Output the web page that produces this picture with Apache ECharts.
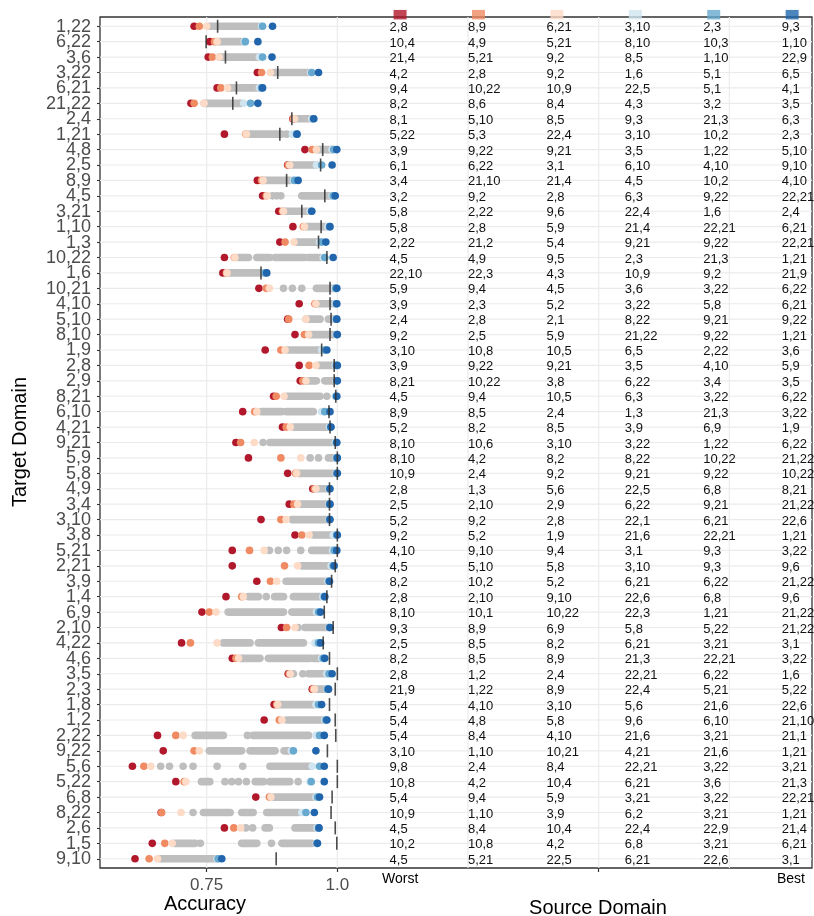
<!DOCTYPE html>
<html>
<head>
<meta charset="utf-8">
<script src="https://cdn.jsdelivr.net/npm/echarts@6/dist/echarts.min.js"></script>
<style>
  html, body { margin: 0; padding: 0; background: #fff; }
  #chart { width: 814px; height: 916px; }
</style>
</head>
<body>
<div id="chart"></div>
<script>
// target domains, top to bottom
const TARGETS = [
  "1,22", "6,22", "3,6", "3,22", "6,21", "21,22", "2,4", "1,21", "4,8", "2,5",
  "8,9", "4,5", "3,21", "1,10", "1,3", "10,22", "1,6", "10,21", "4,10", "5,10",
  "8,10", "1,9", "2,8", "2,9", "8,21", "6,10", "4,21", "9,21", "5,9", "5,8",
  "4,9", "3,4", "3,10", "3,8", "5,21", "2,21", "3,9", "1,4", "6,9", "2,10",
  "4,22", "4,6", "3,5", "2,3", "1,8", "1,2", "2,22", "9,22", "5,6", "5,22",
  "6,8", "8,22", "2,6", "1,5", "9,10",
];

// source domains for each target, worst -> best
const SOURCE_LABELS = [
  ["2,8", "8,9", "6,21", "3,10", "2,3", "9,3"],
  ["10,4", "4,9", "5,21", "8,10", "10,3", "1,10"],
  ["21,4", "5,21", "9,2", "8,5", "1,10", "22,9"],
  ["4,2", "2,8", "9,2", "1,6", "5,1", "6,5"],
  ["9,4", "10,22", "10,9", "22,5", "5,1", "4,1"],
  ["8,2", "8,6", "8,4", "4,3", "3,2", "3,5"],
  ["8,1", "5,10", "8,5", "9,3", "21,3", "6,3"],
  ["5,22", "5,3", "22,4", "3,10", "10,2", "2,3"],
  ["3,9", "9,22", "9,21", "3,5", "1,22", "5,10"],
  ["6,1", "6,22", "3,1", "6,10", "4,10", "9,10"],
  ["3,4", "21,10", "21,4", "4,5", "10,2", "4,10"],
  ["3,2", "9,2", "2,8", "6,3", "9,22", "22,21"],
  ["5,8", "2,22", "9,6", "22,4", "1,6", "2,4"],
  ["5,8", "2,8", "5,9", "21,4", "22,21", "6,21"],
  ["2,22", "21,2", "5,4", "9,21", "9,22", "22,21"],
  ["4,5", "4,9", "9,5", "2,3", "21,3", "1,21"],
  ["22,10", "22,3", "4,3", "10,9", "9,2", "21,9"],
  ["5,9", "9,4", "4,5", "3,6", "3,22", "6,22"],
  ["3,9", "2,3", "5,2", "3,22", "5,8", "6,21"],
  ["2,4", "2,8", "2,1", "8,22", "9,21", "9,22"],
  ["9,2", "2,5", "5,9", "21,22", "9,22", "1,21"],
  ["3,10", "10,8", "10,5", "6,5", "2,22", "3,6"],
  ["3,9", "9,22", "9,21", "3,5", "4,10", "5,9"],
  ["8,21", "10,22", "3,8", "6,22", "3,4", "3,5"],
  ["4,5", "9,4", "10,5", "6,3", "3,22", "6,22"],
  ["8,9", "8,5", "2,4", "1,3", "21,3", "3,22"],
  ["5,2", "8,2", "8,5", "3,9", "6,9", "1,9"],
  ["8,10", "10,6", "3,10", "3,22", "1,22", "6,22"],
  ["8,10", "4,2", "8,2", "8,22", "10,22", "21,22"],
  ["10,9", "2,4", "9,2", "9,21", "9,22", "10,22"],
  ["2,8", "1,3", "5,6", "22,5", "6,8", "8,21"],
  ["2,5", "2,10", "2,9", "6,22", "9,21", "21,22"],
  ["5,2", "9,2", "2,8", "22,1", "6,21", "22,6"],
  ["9,2", "5,2", "1,9", "21,6", "22,21", "1,21"],
  ["4,10", "9,10", "9,4", "3,1", "9,3", "3,22"],
  ["4,5", "5,10", "5,8", "3,10", "9,3", "9,6"],
  ["8,2", "10,2", "5,2", "6,21", "6,22", "21,22"],
  ["2,8", "2,10", "9,10", "22,6", "6,8", "9,6"],
  ["8,10", "10,1", "10,22", "22,3", "1,21", "21,22"],
  ["9,3", "8,9", "6,9", "5,8", "5,22", "21,22"],
  ["2,5", "8,5", "8,2", "6,21", "3,21", "3,1"],
  ["8,2", "8,5", "8,9", "21,3", "22,21", "3,22"],
  ["2,8", "1,2", "2,4", "22,21", "6,22", "1,6"],
  ["21,9", "1,22", "8,9", "22,4", "5,21", "5,22"],
  ["5,4", "4,10", "3,10", "5,6", "21,6", "22,6"],
  ["5,4", "4,8", "5,8", "9,6", "6,10", "21,10"],
  ["5,4", "8,4", "4,10", "21,6", "3,21", "21,1"],
  ["3,10", "1,10", "10,21", "4,21", "21,6", "1,21"],
  ["9,8", "2,4", "8,4", "22,21", "3,22", "3,21"],
  ["10,8", "4,2", "10,4", "6,21", "3,6", "21,3"],
  ["5,4", "9,4", "5,9", "3,21", "3,22", "22,21"],
  ["10,9", "1,10", "3,9", "6,2", "3,21", "1,21"],
  ["4,5", "8,4", "10,4", "22,4", "22,9", "21,4"],
  ["10,2", "10,8", "4,2", "6,8", "3,21", "6,21"],
  ["4,5", "5,21", "22,5", "6,21", "22,6", "3,1"],
];

// accuracy of the six highlighted sources, worst -> best
const RANK_ACC = [
  [0.726, 0.736, 0.750, 0.855, 0.857, 0.876],
  [0.756, 0.765, 0.770, 0.822, 0.824, 0.848],
  [0.753, 0.761, 0.774, 0.851, 0.857, 0.875],
  [0.847, 0.855, 0.872, 0.949, 0.951, 0.964],
  [0.770, 0.777, 0.790, 0.851, 0.855, 0.857],
  [0.720, 0.726, 0.745, 0.821, 0.834, 0.848],
  [0.915, 0.916, 0.918, 0.951, 0.954, 0.955],
  [0.784, 0.825, 0.826, 0.914, 0.922, 0.923],
  [0.938, 0.952, 0.960, 0.990, 0.993, 0.999],
  [0.905, 0.906, 0.909, 0.960, 0.970, 0.990],
  [0.847, 0.855, 0.858, 0.916, 0.918, 0.925],
  [0.857, 0.864, 0.866, 0.990, 0.992, 0.996],
  [0.888, 0.895, 0.897, 0.948, 0.951, 0.951],
  [0.915, 0.935, 0.937, 0.982, 0.985, 0.986],
  [0.890, 0.900, 0.917, 0.966, 0.970, 0.978],
  [0.784, 0.803, 0.804, 0.973, 0.976, 0.992],
  [0.781, 0.788, 0.789, 0.860, 0.862, 0.865],
  [0.850, 0.864, 0.870, 0.995, 0.997, 0.999],
  [0.927, 0.957, 0.959, 0.996, 0.998, 0.999],
  [0.905, 0.907, 0.940, 0.996, 0.998, 0.999],
  [0.919, 0.937, 0.945, 0.998, 0.999, 1.000],
  [0.862, 0.892, 0.900, 0.970, 0.976, 0.980],
  [0.927, 0.946, 0.959, 0.996, 0.998, 1.000],
  [0.929, 0.934, 0.940, 0.998, 0.999, 1.000],
  [0.878, 0.883, 0.898, 0.996, 0.998, 0.999],
  [0.819, 0.842, 0.846, 0.970, 0.976, 0.986],
  [0.895, 0.902, 0.910, 0.985, 0.987, 0.988],
  [0.806, 0.815, 0.841, 0.996, 0.998, 0.999],
  [0.830, 0.892, 0.930, 0.998, 0.999, 1.000],
  [0.905, 0.920, 0.922, 0.998, 0.999, 1.000],
  [0.953, 0.956, 0.959, 0.984, 0.985, 0.986],
  [0.908, 0.917, 0.924, 0.984, 0.985, 0.986],
  [0.854, 0.892, 0.902, 0.984, 0.985, 0.986],
  [0.919, 0.932, 0.946, 0.992, 0.999, 1.000],
  [0.799, 0.832, 0.860, 0.991, 0.994, 0.999],
  [0.799, 0.899, 0.924, 0.988, 0.992, 0.994],
  [0.846, 0.872, 0.884, 0.982, 0.984, 0.985],
  [0.787, 0.817, 0.820, 0.972, 0.975, 0.976],
  [0.741, 0.755, 0.768, 0.960, 0.964, 0.968],
  [0.893, 0.903, 0.919, 0.984, 0.985, 0.986],
  [0.702, 0.719, 0.770, 0.957, 0.964, 0.968],
  [0.799, 0.806, 0.811, 0.970, 0.973, 0.976],
  [0.906, 0.908, 0.910, 0.980, 0.984, 0.990],
  [0.952, 0.954, 0.956, 0.980, 0.981, 0.983],
  [0.879, 0.884, 0.886, 0.959, 0.964, 0.970],
  [0.860, 0.889, 0.894, 0.976, 0.978, 0.980],
  [0.656, 0.691, 0.705, 0.959, 0.966, 0.975],
  [0.667, 0.726, 0.736, 0.912, 0.916, 0.959],
  [0.608, 0.630, 0.643, 0.952, 0.966, 0.975],
  [0.691, 0.707, 0.710, 0.948, 0.950, 0.975],
  [0.844, 0.870, 0.873, 0.959, 0.962, 0.966],
  [0.663, 0.664, 0.701, 0.932, 0.940, 0.956],
  [0.784, 0.802, 0.815, 0.961, 0.964, 0.965],
  [0.646, 0.670, 0.684, 0.960, 0.961, 0.962],
  [0.613, 0.640, 0.656, 0.770, 0.772, 0.779],
];

// vertical black mark per target
const BASELINE = [
  0.771, 0.749, 0.786, 0.886, 0.807, 0.800, 0.913, 0.890, 0.972, 0.968,
  0.903, 0.976, 0.932, 0.969, 0.964, 0.980, 0.854, 0.986, 0.986, 0.988,
  0.986, 0.970, 0.994, 0.994, 0.997, 0.984, 0.986, 0.996, 1.000, 1.000,
  0.985, 0.985, 0.985, 1.000, 1.000, 0.996, 0.989, 0.980, 0.975, 0.992,
  0.973, 0.985, 1.000, 0.996, 0.985, 0.996, 0.997, 0.981, 1.000, 1.000,
  0.990, 0.988, 0.996, 0.999, 0.883,
];

// remaining sources (grey): [from, to] runs of overlapping dots
const GRAY_RUNS = [
  [[0.756, 0.849]],
  [[0.770, 0.822]],
  [[0.774, 0.849]],
  [[0.877, 0.945]],
  [[0.791, 0.849]],
  [[0.745, 0.817]],
  [[0.919, 0.951]],
  [[0.833, 0.893], [0.903, 0.903]],
  [[0.960, 0.992]],
  [[0.909, 0.960]],
  [[0.858, 0.909]],
  [[0.876, 0.876], [0.884, 0.884], [0.892, 0.892], [0.932, 0.986]],
  [[0.900, 0.945]],
  [[0.941, 0.980]],
  [[0.922, 0.964]],
  [[0.811, 0.830], [0.846, 0.871], [0.881, 0.938], [0.945, 0.967]],
  [[0.788, 0.855]],
  [[0.897, 0.897], [0.914, 0.914], [0.932, 0.932], [0.960, 0.996]],
  [[0.959, 0.992]],
  [[0.940, 0.967], [0.983, 0.996]],
  [[0.945, 0.992]],
  [[0.903, 0.968]],
  [[0.964, 0.992]],
  [[0.938, 0.960], [0.976, 0.995]],
  [[0.903, 0.967], [0.980, 0.980]],
  [[0.855, 0.894], [0.903, 0.954]],
  [[0.916, 0.983]],
  [[0.858, 0.858], [0.871, 0.992]],
  [[0.948, 0.948], [0.964, 0.964], [0.983, 0.999]],
  [[0.925, 0.992]],
  [[0.960, 0.983]],
  [[0.928, 0.983]],
  [[0.913, 0.983]],
  [[0.954, 0.992]],
  [[0.870, 0.870], [0.887, 0.887], [0.903, 0.903], [0.930, 0.930], [0.951, 0.989]],
  [[0.932, 0.986]],
  [[0.902, 0.980]],
  [[0.830, 0.849], [0.864, 0.864], [0.880, 0.897], [0.916, 0.967]],
  [[0.791, 0.897], [0.913, 0.957]],
  [[0.925, 0.925], [0.938, 0.983]],
  [[0.782, 0.833], [0.849, 0.935]],
  [[0.814, 0.852], [0.868, 0.948], [0.954, 0.966]],
  [[0.916, 0.916], [0.934, 0.934], [0.945, 0.976]],
  [[0.956, 0.983]],
  [[0.887, 0.957]],
  [[0.903, 0.976]],
  [[0.728, 0.782], [0.828, 0.828], [0.839, 0.945]],
  [[0.755, 0.817], [0.833, 0.881], [0.898, 0.909]],
  [[0.662, 0.662], [0.679, 0.679], [0.705, 0.705], [0.724, 0.724], [0.770, 0.770], [0.819, 0.819], [0.871, 0.948]],
  [[0.740, 0.756], [0.785, 0.785], [0.798, 0.798], [0.811, 0.811], [0.826, 0.826], [0.843, 0.859], [0.871, 0.909], [0.925, 0.925]],
  [[0.878, 0.954]],
  [[0.724, 0.724], [0.744, 0.795], [0.817, 0.839], [0.865, 0.925]],
  [[0.825, 0.825], [0.838, 0.838], [0.862, 0.870], [0.919, 0.961]],
  [[0.689, 0.728], [0.738, 0.738], [0.817, 0.846], [0.874, 0.874], [0.894, 0.951]],
  [[0.661, 0.769]],
];

const RANK_COLORS = ["#B2182B", "#EF8A62", "#FDDBC7", "#D1E5F0", "#67A9CF", "#2166AC"];
const X_LABELS = [0.75, 1.0];
const X_TICKS = [0.75, 1.0, 1.5];
const X_GRID = [0.75, 1.0, 1.25, 1.5, 1.75];

// layout of the source-domain table (in x axis units)
const COL_X = [1.1, 1.25, 1.4, 1.55, 1.7, 1.85];
const KEY_OFFSET = 0.02;
const KEY_ROW = 0.25;
const FONT = '"Liberation Sans", Arial, Helvetica, sans-serif';
const DOT = 7.6;

const rows = TARGETS.map((_, i) => i + 1);
const chart = echarts.init(document.getElementById("chart"));

const grayData = [];
GRAY_RUNS.forEach((runs, i) => runs.forEach(([a, b]) => grayData.push([i + 1, a, b])));

const tableData = [];
SOURCE_LABELS.forEach((labels, i) => labels.forEach((_, c) => tableData.push([COL_X[c], i + 1, c])));

chart.setOption({
  animation: false,
  grid: {
    left: 100,
    right: 2,
    top: 17,
    bottom: 48,
    show: true,
    borderColor: "#333",
    borderWidth: 1.3,
    containLabel: false,
    outerBoundsMode: "none",
  },
  xAxis: {
    type: "value",
    min: 0.546,
    max: 1.908,
    splitLine: { show: false },
    axisLine: { show: false },
    axisTick: { customValues: X_TICKS, length: 4, lineStyle: { color: "#333", width: 1.2 } },
    axisLabel: {
      customValues: X_LABELS,
      formatter: (v) => (v === 1 ? "1.0" : String(v)),
      fontSize: 17,
      fontFamily: FONT,
      color: "#4D4D4D",
      margin: 9,
      hideOverlap: false,
    },
  },
  yAxis: {
    type: "value",
    inverse: true,
    min: 0.4,
    max: 55.6,
    splitLine: { show: false },
    axisLine: { show: false },
    axisTick: { customValues: rows, length: 3, lineStyle: { color: "#333", width: 1.1 } },
    // target labels are drawn by the custom series below so none get dropped
    axisLabel: { show: false },
  },
  graphic: [
    {
      type: "text", x: 20, y: 442, rotation: Math.PI / 2,
      style: { text: "Target Domain", fontSize: 20, fontFamily: FONT, fill: "#000", align: "center", verticalAlign: "middle" },
    },
    {
      type: "text", x: 205, y: 904,
      style: { text: "Accuracy", fontSize: 20, fontFamily: FONT, fill: "#000", align: "center", verticalAlign: "middle" },
    },
    {
      type: "text", x: 598, y: 908,
      style: { text: "Source Domain", fontSize: 20, fontFamily: FONT, fill: "#000", align: "center", verticalAlign: "middle" },
    },
    {
      type: "text", x: 382, y: 879,
      style: { text: "Worst", fontSize: 14, fontFamily: FONT, fill: "#000", align: "left", verticalAlign: "middle" },
    },
    {
      type: "text", x: 805, y: 879,
      style: { text: "Best", fontSize: 14, fontFamily: FONT, fill: "#000", align: "right", verticalAlign: "middle" },
    },
  ],
  series: [
    {
      // horizontal grid line for each target
      type: "custom",
      z: 1,
      silent: true,
      data: rows.map((r) => [0.75, r]),
      renderItem: (params, api) => {
        const y = api.coord([0.75, api.value(1)])[1];
        const cs = params.coordSys;
        return {
          type: "line",
          shape: { x1: cs.x, y1: y, x2: cs.x + cs.width, y2: y },
          style: { stroke: "#EBEBEB", lineWidth: 1.2 },
        };
      },
    },
    {
      // vertical grid lines
      type: "custom",
      z: 1,
      silent: true,
      data: X_GRID.map((x) => [x, 1]),
      renderItem: (params, api) => {
        const x = api.coord([api.value(0), 1])[0];
        const cs = params.coordSys;
        return {
          type: "line",
          shape: { x1: x, y1: cs.y, x2: x, y2: cs.y + cs.height },
          style: { stroke: "#EBEBEB", lineWidth: 1.2 },
        };
      },
    },
    {
      // target domain labels
      type: "custom",
      z: 2,
      silent: true,
      clip: false,
      data: rows.map((r) => [0.75, r]),
      renderItem: (params, api) => {
        const y = api.coord([0.75, api.value(1)])[1];
        return {
          type: "text",
          x: params.coordSys.x - 9,
          y: y + 0.5,
          style: {
            text: TARGETS[api.value(1) - 1],
            fontSize: 18,
            fontFamily: FONT,
            fill: "#4D4D4D",
            align: "right",
            verticalAlign: "middle",
          },
        };
      },
    },
    {
      type: "custom",
      name: "Other sources",
      z: 3,
      data: grayData,
      encode: { x: [1, 2], y: 0 },
      renderItem: (params, api) => {
        const a = api.coord([api.value(1), api.value(0)]);
        const b = api.coord([api.value(2), api.value(0)]);
        const r = DOT / 2;
        return {
          type: "rect",
          shape: { x: a[0] - r, y: a[1] - r, width: b[0] - a[0] + 2 * r, height: 2 * r, r: r },
          style: { fill: "#BEBEBE" },
        };
      },
    },
    ...RANK_COLORS.map((color, k) => ({
      type: "scatter",
      z: 4,
      symbolSize: DOT,
      itemStyle: { color, opacity: 1 },
      data: RANK_ACC.map((acc, i) => [acc[k], i + 1]),
    })),
    {
      type: "scatter",
      z: 5,
      symbol: "rect",
      symbolSize: [1.6, 13],
      itemStyle: { color: "#2e2e2e", opacity: 0.85 },
      data: BASELINE.map((v, i) => [v, i + 1]),
    },
    {
      // colour key above the table
      type: "scatter",
      z: 6,
      clip: false,
      symbol: "rect",
      symbolSize: [13, 9.5],
      data: COL_X.map((x, k) => ({ value: [x + KEY_OFFSET, KEY_ROW], itemStyle: { color: RANK_COLORS[k] } })),
    },
    {
      type: "custom",
      z: 6,
      data: tableData,
      renderItem: (params, api) => {
        const p = api.coord([api.value(0), api.value(1)]);
        const row = api.value(1) - 1;
        const col = api.value(2);
        return {
          type: "text",
          x: p[0],
          y: p[1] + 1.5,
          style: {
            text: SOURCE_LABELS[row][col],
            fontSize: 13,
            fontFamily: FONT,
            fill: "#111",
            align: "left",
            verticalAlign: "middle",
          },
        };
      },
    },
  ],
});
</script>
</body>
</html>
